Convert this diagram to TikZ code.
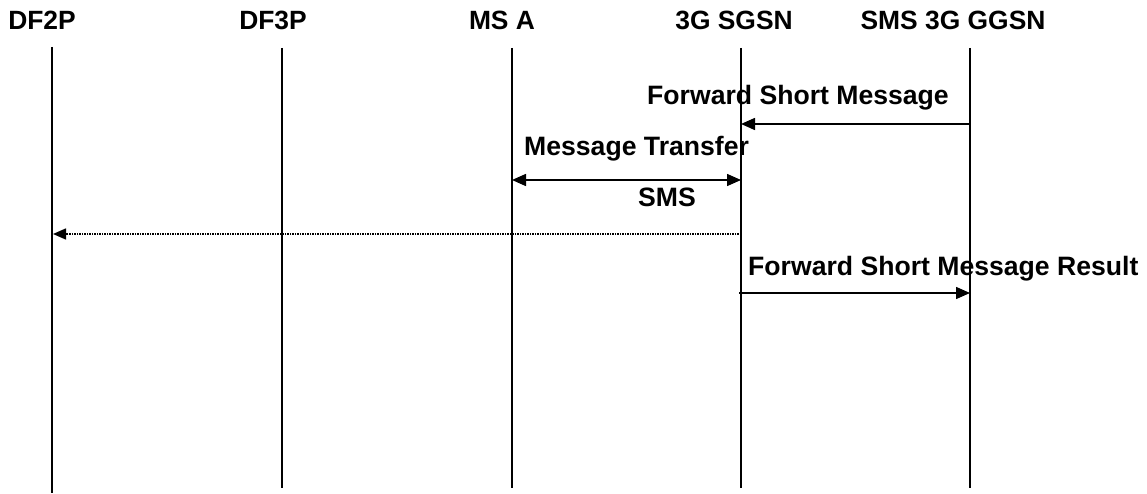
\documentclass[tikz,border=0pt]{standalone}
\usepackage{fontspec}
\setmainfont{Liberation Sans}
\usetikzlibrary{arrows.meta}
\tikzset{
  hdr/.style={font=\fontsize{26.4}{31}\selectfont\bfseries, inner sep=0pt, anchor=base},
  lbl/.style={font=\fontsize{26.6}{31}\selectfont\bfseries, inner sep=0pt, anchor=base west},
  life/.style={line width=1.2pt, black},
  msg/.style={line width=1.5pt, black, -{Triangle[length=14pt,width=12pt]}},
  bimsg/.style={line width=1.5pt, black, {Triangle[length=14pt,width=12pt]}-{Triangle[length=14pt,width=12pt]}},
  dotmsg/.style={line width=1.5pt, black, densely dotted, -{Triangle[length=13pt,width=11pt]}}
}
\begin{document}
\begin{tikzpicture}[x=1pt,y=-1pt]
\useasboundingbox (0,0) rectangle (1147,494);
% headers
\node[hdr] (hA) at (42,30) {DF2P};
\node[hdr] (hB) at (273,30) {DF3P};
\node[hdr] (hC) at (502,30) {MS A};
\node[hdr] (hD) at (734,30) {3G SGSN};
\node[hdr] (hE) at (953,30) {SMS 3G GGSN};
% lifelines
\coordinate (tA) at (52,47);  \coordinate (bA) at (52,493);
\coordinate (tB) at (282,48); \coordinate (bB) at (282,488);
\coordinate (tC) at (512,48); \coordinate (bC) at (512,488);
\coordinate (tD) at (741,48); \coordinate (bD) at (741,488);
\coordinate (tE) at (970,48); \coordinate (bE) at (970,488);
\draw[life] (tA) -- (bA);
\draw[life] (tB) -- (bB);
\draw[life] (tC) -- (bC);
\draw[life] (tD) -- (bD);
\draw[life] (tE) -- (bE);
% message anchor points
\coordinate (e1) at (970,124); \coordinate (d1) at (741,124);
\coordinate (c2) at (512,180); \coordinate (d2) at (741,180);
\coordinate (d3) at (741,234); \coordinate (a3) at (53,234);
\coordinate (d4) at (739,293); \coordinate (e4) at (970,293);
% messages
\draw[msg] (e1) -- (d1);
\draw[bimsg] (c2) -- (d2);
\draw[dotmsg] (d3) -- (a3);
\draw[msg] (d4) -- (e4);
% labels
\node[lbl] (l1) at (647,105) {Forward Short Message};
\node[lbl] (l2) at (524,156) {Message Transfer};
\node[lbl] (l3) at (638,207) {SMS};
\node[lbl] (l4) at (748,275) {Forward Short Message Result};
\end{tikzpicture}
\end{document}
